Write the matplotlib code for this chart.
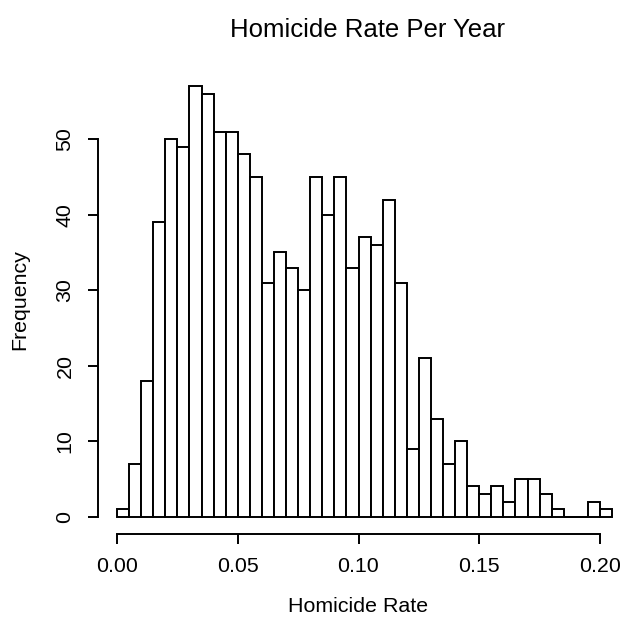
import numpy as np
import matplotlib
matplotlib.use("Agg")
import matplotlib.pyplot as plt

# Histogram data (bins of width 0.005 from 0.000 to 0.205)
bin_width = 0.005
counts = [1, 7, 18, 39, 50, 49, 57, 56, 51, 51, 48, 45, 31, 35, 33, 30,
          45, 40, 45, 33, 37, 36, 42, 31, 9, 21, 13, 7, 10, 4, 3, 4, 2,
          5, 5, 3, 1, 0, 0, 2, 1]
x_ticks = [0.00, 0.05, 0.10, 0.15, 0.20]
x_tick_labels = ["0.00", "0.05", "0.10", "0.15", "0.20"]
y_ticks = [0, 10, 20, 30, 40, 50]

title = "Homicide Rate Per Year"
xlabel = "Homicide Rate"
ylabel = "Frequency"

W, H = 626, 631
fig = plt.figure(figsize=(W / 100, H / 100), dpi=100)
plt.rcParams['font.family'] = ['Liberation Sans', 'DejaVu Sans']

LW = 1.4

# plot region in pixels
left_px, right_px = 97.5, 626.0
top_px, bottom_px = 69.1, 533.9
ax = fig.add_axes([left_px / W, 1 - bottom_px / H,
                   (right_px - left_px) / W, (bottom_px - top_px) / H])

edges = np.arange(len(counts)) * bin_width
ax.bar(edges, counts, width=bin_width, align='edge', facecolor='white',
       edgecolor='black', linewidth=LW)
# zero-height bins still show their outline as a line on the baseline
zero_edges = [e for e, c in zip(edges, counts) if c == 0]
ax.hlines([0] * len(zero_edges), zero_edges,
          [e + bin_width for e in zero_edges], colors='black', linewidth=LW)

scale = 2415.0
ax.set_xlim(-(117.0 - left_px) / scale, (right_px - 117.0) / scale)
ymax = max(counts)
ax.set_ylim(-0.04 * ymax, ymax * 1.04)

for s in ['top', 'right']:
    ax.spines[s].set_visible(False)
ax.spines['bottom'].set_bounds(0, 0.20)
ax.spines['left'].set_bounds(0, 50)
for s in ['bottom', 'left']:
    ax.spines[s].set_linewidth(LW)

ax.set_xticks(x_ticks)
ax.set_xticklabels(x_tick_labels)
ax.set_yticks(y_ticks)
ax.set_yticklabels([str(v) for v in y_ticks])
ax.tick_params(axis='both', direction='out', length=7.5, width=LW,
               labelsize=15.4, pad=9)
ax.tick_params(axis='y', labelrotation=90, pad=9)
for lab in ax.get_yticklabels():
    lab.set_va('center')

fig.text(368 / W, 1 - 30 / H, title, ha='center', va='center', fontsize=18.5)
fig.text(358 / W, 1 - 606 / H, xlabel, ha='center', va='center', fontsize=15.4)
fig.text(20 / W, 1 - 300 / H, ylabel, ha='center', va='center',
         fontsize=15.4, rotation=90)

fig.savefig("out.png", dpi=100)
